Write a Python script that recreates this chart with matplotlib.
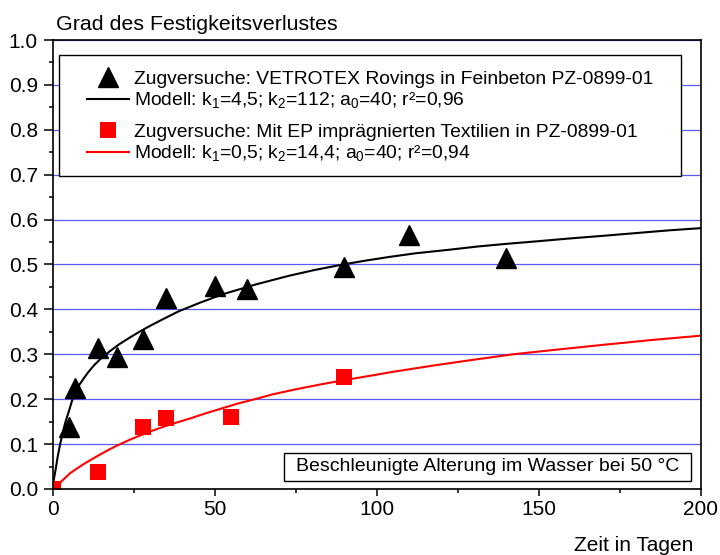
import matplotlib
matplotlib.use('Agg')
import matplotlib.pyplot as plt
from matplotlib.patches import Rectangle
from matplotlib.ticker import MultipleLocator

plt.rcParams['font.family'] = ['Liberation Sans', 'DejaVu Sans']
plt.rcParams['mathtext.fontset'] = 'custom'
plt.rcParams['mathtext.rm'] = 'Liberation Sans'
plt.rcParams['mathtext.it'] = 'Liberation Sans:italic'
plt.rcParams['mathtext.bf'] = 'Liberation Sans:bold'

# --- data ---
tage_glas = [5, 7, 14, 20, 28, 35, 50, 60, 90, 110, 140]
verlust_glas = [0.138, 0.224, 0.313, 0.294, 0.335, 0.425, 0.452, 0.445, 0.494, 0.566, 0.514]

tage_ep = [0, 14, 28, 35, 55, 90]
verlust_ep = [0.0, 0.038, 0.139, 0.159, 0.160, 0.249]

modell_glas_t = [0, 0.5, 1, 1.6, 2.3, 3, 3.85, 5, 6, 6.9, 8, 9.5, 11, 13, 15, 17.7, 20.5,
                 24, 27, 30, 34, 39, 45.5, 52.6, 62.9, 73, 81, 89.6, 96, 104, 112, 122.5,
                 131, 140, 150, 159.5, 170, 180, 190, 200]
modell_glas_y = [0, 0.025, 0.045, 0.072, 0.098, 0.120, 0.146, 0.172, 0.196, 0.213, 0.229,
                 0.245, 0.260, 0.277, 0.291, 0.307, 0.322, 0.338, 0.351, 0.363, 0.378,
                 0.396, 0.415, 0.434, 0.456, 0.475, 0.488, 0.500, 0.508, 0.517, 0.525,
                 0.533, 0.540, 0.546, 0.552, 0.558, 0.564, 0.570, 0.576, 0.581]

modell_ep_t = [0, 1.3, 2.3, 3.5, 5.4, 7, 9.5, 11.6, 14, 17, 19.7, 23.9, 30, 36, 42.4, 47,
               52, 57, 62.9, 68, 75, 82, 89.6, 97.8, 105, 118.4, 130, 142, 155, 169.7,
               185, 200]
modell_ep_y = [0, 0.007, 0.014, 0.022, 0.035, 0.043, 0.055, 0.064, 0.074, 0.086, 0.096,
               0.110, 0.128, 0.143, 0.157, 0.168, 0.179, 0.190, 0.201, 0.211, 0.222,
               0.232, 0.242, 0.252, 0.261, 0.276, 0.288, 0.300, 0.310, 0.321, 0.332,
               0.3415]

labels = ['Zugversuche: VETROTEX Rovings in Feinbeton PZ-0899-01',
          r'Modell: k$_1$=4,5; k$_2$=112; a$_0$=40; r²=0,96',
          'Zugversuche: Mit EP imprägnierten Textilien in PZ-0899-01',
          r'Modell: k$_1$=0,5; k$_2$=14,4; a$_0$=40; r²=0,94']

fig = plt.figure(figsize=(7.2, 5.55), dpi=100)
ax = fig.add_axes([52.5 / 720, 1 - 489 / 555, 648.5 / 720, 449 / 555])

l1, = ax.plot(modell_glas_t, modell_glas_y, color='black', lw=1.5, zorder=2)
l2, = ax.plot(modell_ep_t, modell_ep_y, color='red', lw=1.5, zorder=2)
s1, = ax.plot(tage_glas, verlust_glas, ls='none', marker='^', ms=14.5, color='black', zorder=3)
s2, = ax.plot(tage_ep, verlust_ep, ls='none', marker='s', ms=12, color='red', mew=0, zorder=3)

ax.set_xlim(0, 200)
ax.set_ylim(0, 1.0)
ax.xaxis.set_major_locator(MultipleLocator(50))
ax.xaxis.set_minor_locator(MultipleLocator(25))
ax.yaxis.set_major_locator(MultipleLocator(0.1))
ax.yaxis.set_minor_locator(MultipleLocator(0.05))
ax.yaxis.set_major_formatter(matplotlib.ticker.FormatStrFormatter('%.1f'))
ax.tick_params(axis='both', which='both', direction='out', labelsize=15, width=1.1)
ax.tick_params(axis='y', which='major', length=6.5, pad=4)
ax.tick_params(axis='y', which='minor', length=3.2)
ax.tick_params(axis='x', which='major', length=5, pad=3)
ax.tick_params(axis='x', which='minor', length=3)
ax.yaxis.grid(True, which='major', color='#5a5af5', lw=0.9)
ax.set_axisbelow(True)
for sp in ax.spines.values():
    sp.set_linewidth(1.2)
    sp.set_zorder(6)

# legend frame + legend content (two stacked groups)
frame = Rectangle((0.010, 0.697), 0.959, 0.2696, transform=ax.transAxes,
                  facecolor='white', edgecolor='black', lw=1.0, zorder=4)
ax.add_patch(frame)
leg_kw = dict(loc='upper left', frameon=False, borderpad=0, borderaxespad=0,
              fontsize=13.9, handlelength=2.2, handletextpad=0.25, labelspacing=0.12)
leg1 = ax.legend([s1, l1], labels[:2], bbox_to_anchor=(0.0532, 0.9321), **leg_kw)
leg1.set_zorder(5)
ax.add_artist(leg1)
leg2 = ax.legend([s2, l2], labels[2:], bbox_to_anchor=(0.0532, 0.814), **leg_kw)
leg2.set_zorder(5)

# annotation box
box = Rectangle((0.357, 0.0178), 0.6276, 0.0624, transform=ax.transAxes,
                facecolor='white', edgecolor='black', lw=1.0, zorder=4)
ax.add_patch(box)
ax.text(0.671, 0.049, 'Beschleunigte Alterung im Wasser bei 50 °C', transform=ax.transAxes,
        ha='center', va='center', fontsize=14, zorder=5)

fig.text(56 / 720, 1 - 30 / 555, 'Grad des Festigkeitsverlustes', fontsize=15.4,
         ha='left', va='baseline')
fig.text(693 / 720, 1 - 551 / 555, 'Zeit in Tagen', fontsize=15, ha='right', va='baseline')

fig.savefig('out.png', dpi=100)
